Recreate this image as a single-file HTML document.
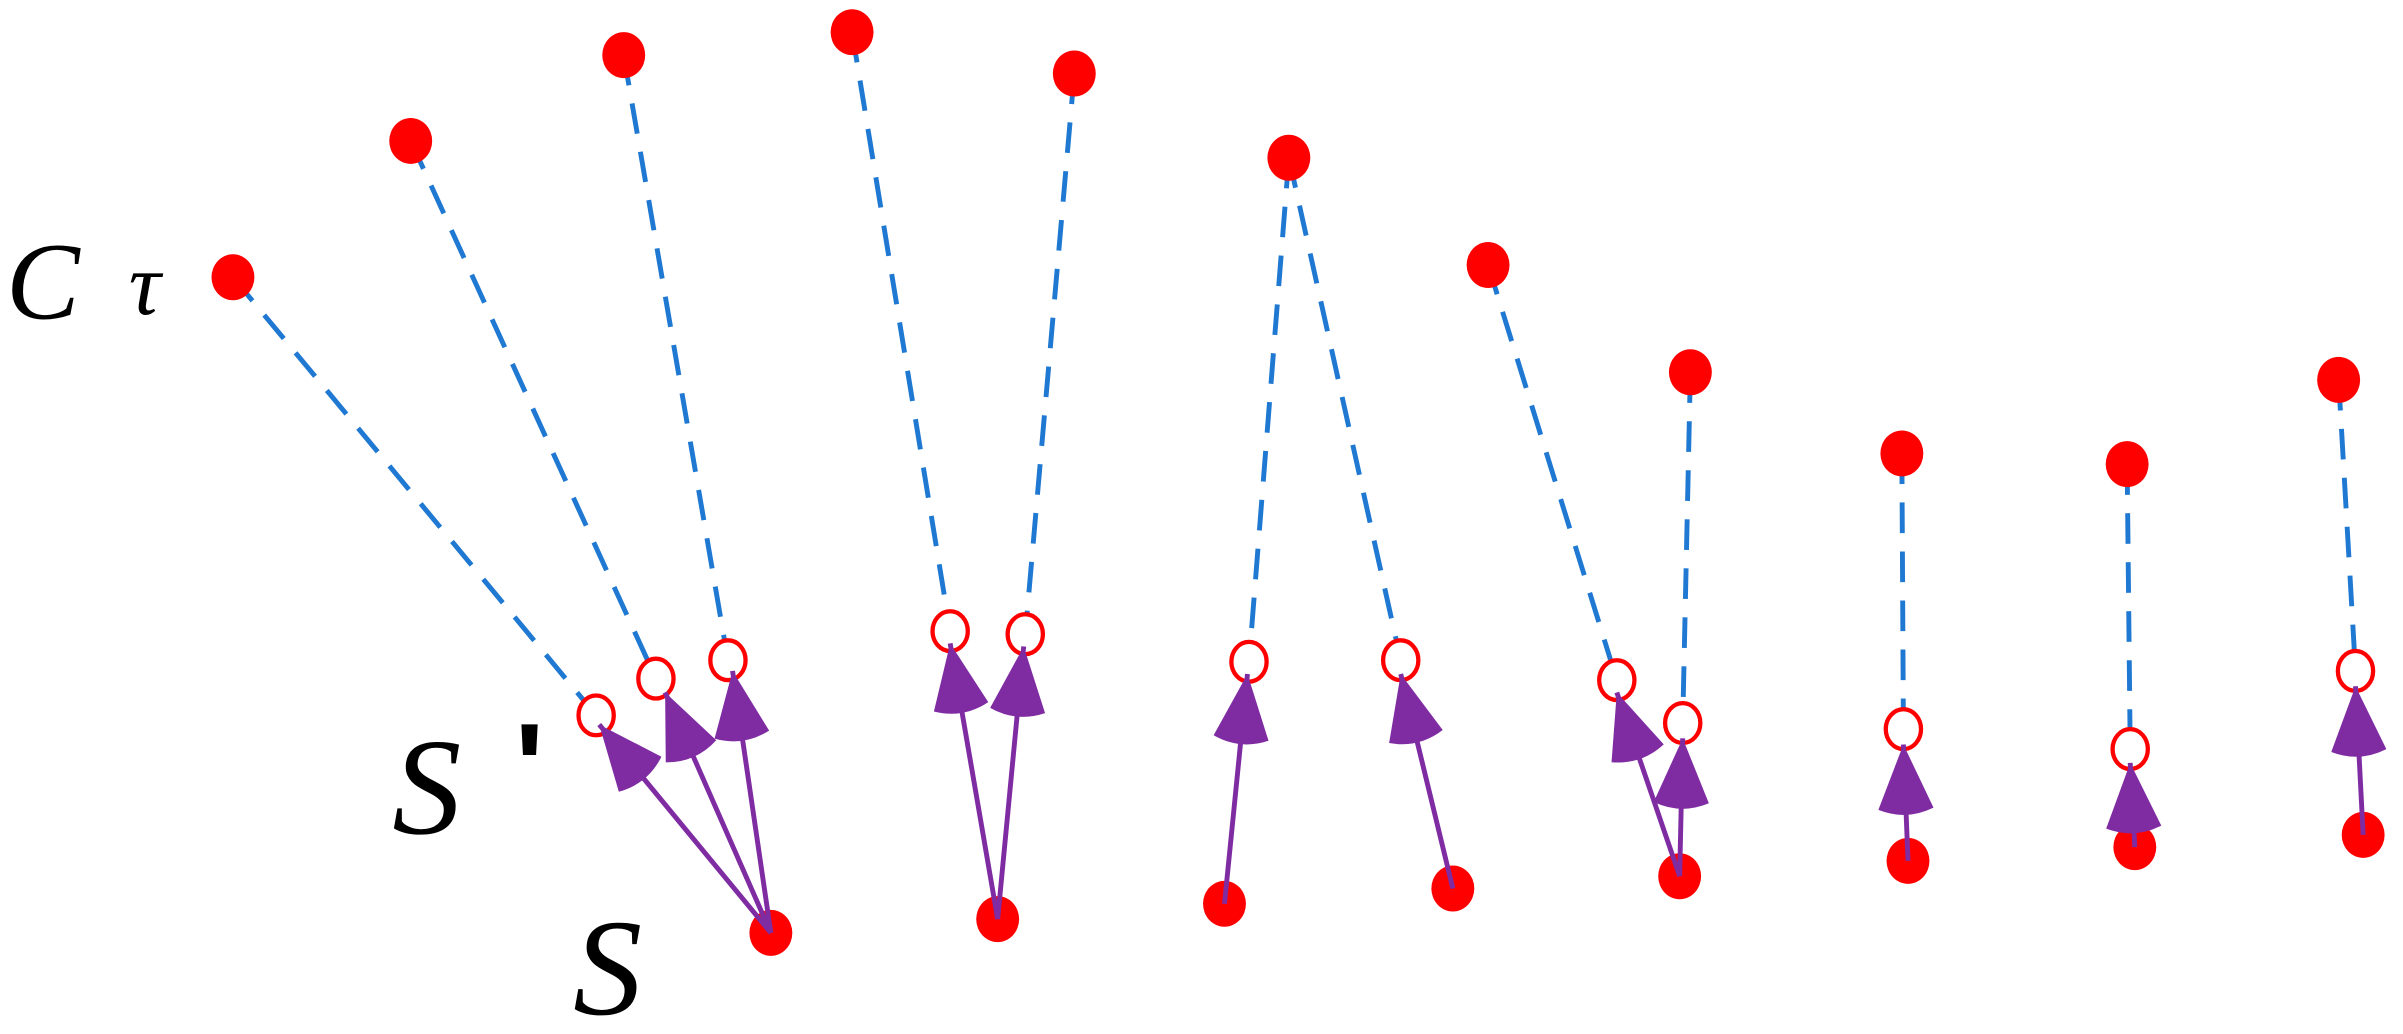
<!DOCTYPE html>
<html><head><meta charset="utf-8"><style>
html,body{margin:0;padding:0;background:#fff;}
svg{display:block;}
.t{font-family:"Liberation Serif","DejaVu Serif",serif;font-style:italic;fill:#000;}
</style></head><body>
<svg width="2403" height="1034" viewBox="0 0 1568 675" preserveAspectRatio="none" xmlns="http://www.w3.org/2000/svg">
<defs>
<marker id="ah" markerUnits="userSpaceOnUse" markerWidth="70" markerHeight="70" viewBox="-60 -30 70 60" refX="0" refY="0" orient="auto">
<path d="M0,0 L-42,-18 Q-50,0 -42,18 Z" fill="#7f2ca3"/>
</marker>
</defs>
<g stroke="#1f78d1" stroke-width="3.2" stroke-dasharray="20 12" fill="none">
<line x1="152" y1="181" x2="389" y2="467"/>
<line x1="268" y1="92" x2="428" y2="443"/>
<line x1="407" y1="36" x2="475" y2="431"/>
<line x1="556" y1="21" x2="620" y2="412"/>
<line x1="701" y1="48" x2="669" y2="414"/>
<line x1="841" y1="103" x2="815" y2="432"/>
<line x1="841" y1="103" x2="914" y2="431"/>
<line x1="971" y1="173" x2="1055" y2="444"/>
<line x1="1103" y1="243" x2="1098" y2="472"/>
<line x1="1241" y1="296" x2="1242" y2="476"/>
<line x1="1388" y1="303" x2="1390" y2="489"/>
<line x1="1526" y1="248" x2="1537" y2="438"/>
</g>
<g fill="#ff0000">
<ellipse cx="152" cy="181" rx="14" ry="15"/>
<ellipse cx="268" cy="92" rx="14" ry="15"/>
<ellipse cx="407" cy="36" rx="14" ry="15"/>
<ellipse cx="556" cy="21" rx="14" ry="15"/>
<ellipse cx="701" cy="48" rx="14" ry="15"/>
<ellipse cx="841" cy="103" rx="14" ry="15"/>
<ellipse cx="971" cy="173" rx="14" ry="15"/>
<ellipse cx="1103" cy="243" rx="14" ry="15"/>
<ellipse cx="1241" cy="296" rx="14" ry="15"/>
<ellipse cx="1388" cy="303" rx="14" ry="15"/>
<ellipse cx="1526" cy="248" rx="14" ry="15"/>
<ellipse cx="503" cy="609" rx="14" ry="15"/>
<ellipse cx="651" cy="600" rx="14" ry="15"/>
<ellipse cx="799" cy="590" rx="14" ry="15"/>
<ellipse cx="948" cy="580" rx="14" ry="15"/>
<ellipse cx="1096" cy="572" rx="14" ry="15"/>
<ellipse cx="1245" cy="562" rx="14" ry="15"/>
<ellipse cx="1393" cy="553" rx="14" ry="15"/>
<ellipse cx="1542" cy="545" rx="14" ry="15"/>
</g>
<g fill="#fff" stroke="#ff0000" stroke-width="2.8">
<ellipse cx="389" cy="467" rx="11.5" ry="13"/>
<ellipse cx="428" cy="443" rx="11.5" ry="13"/>
<ellipse cx="475" cy="431" rx="11.5" ry="13"/>
<ellipse cx="620" cy="412" rx="11.5" ry="13"/>
<ellipse cx="669" cy="414" rx="11.5" ry="13"/>
<ellipse cx="815" cy="432" rx="11.5" ry="13"/>
<ellipse cx="914" cy="431" rx="11.5" ry="13"/>
<ellipse cx="1055" cy="444" rx="11.5" ry="13"/>
<ellipse cx="1098" cy="472" rx="11.5" ry="13"/>
<ellipse cx="1242" cy="476" rx="11.5" ry="13"/>
<ellipse cx="1390" cy="489" rx="11.5" ry="13"/>
<ellipse cx="1537" cy="438" rx="11.5" ry="13"/>
</g>
<g stroke="#7f2ca3" stroke-width="3.2" fill="none" marker-end="url(#ah)">
<line x1="503" y1="609" x2="391" y2="473"/>
<line x1="503" y1="609" x2="434" y2="452"/>
<line x1="503" y1="609" x2="478" y2="438"/>
<line x1="651" y1="600" x2="620" y2="420"/>
<line x1="651" y1="600" x2="668" y2="422"/>
<line x1="799" y1="590" x2="814" y2="440"/>
<line x1="948" y1="580" x2="914" y2="440"/>
<line x1="1096" y1="572" x2="1055" y2="452"/>
<line x1="1096" y1="572" x2="1098" y2="482"/>
<line x1="1245" y1="562" x2="1242" y2="486"/>
<line x1="1393" y1="553" x2="1390" y2="498"/>
<line x1="1542" y1="545" x2="1537" y2="448"/>
</g>
<text class="t" x="4" y="208" font-size="72">C</text>
<text class="t" x="84" y="205" font-size="58">τ</text>
<text class="t" x="256" y="544" font-size="90">S</text>
<text x="336" y="528" font-size="80" font-weight="bold" font-family="Liberation Sans, sans-serif" fill="#000">'</text>
<text class="t" x="374" y="662" font-size="90">S</text>
</svg>
</body></html>
